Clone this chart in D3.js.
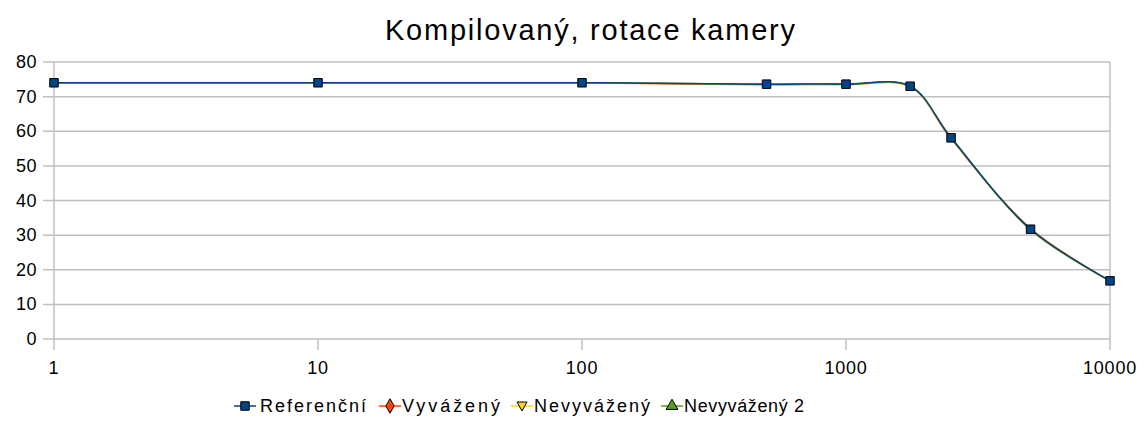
<!DOCTYPE html>
<html lang="cs">
<head>
  <meta charset="UTF-8" />
  <title>Kompilovaný, rotace kamery</title>
  <style>
    body { margin: 0; background: #fff; }
    svg { display: block; font-family: "Liberation Sans", Arial, sans-serif; }
    .grid line { stroke: #c0c0c0; stroke-width: 1.5px; }
    .tick-label { font-size: 18px; fill: #000; }
    .series path.line { fill: none; stroke-width: 1.5px; }
  </style>
</head>
<body>
  <svg width="1146" height="434"></svg>
  <script src="https://d3js.org/d3.v7.min.js"></script>
  <script>
    const width = 1146, height = 434;
    const margin = { top: 62, right: 36, bottom: 95, left: 54 };

    // data
    const xValues = [1, 10, 100, 500, 1000, 1750, 2500, 5000, 10000];
    const referencni = [74, 74, 74, 73.6, 73.6, 73.0, 58.1, 31.7, 16.8];
    const vyvazeny = [74, 74, 74, 73.4, 73.5, 72.9, 57.8, 31.9, 16.8];
    const nevyvazeny = [74, 74, 74, 73.6, 73.5, 72.8, 58.0, 31.5, 16.7];
    const nevyvazeny2 = [74, 74, 74, 73.6, 73.7, 73.0, 58.2, 31.6, 16.8];
    const xTicks = [1, 10, 100, 1000, 10000];
    const yTicks = [0, 10, 20, 30, 40, 50, 60, 70, 80];

    const series = [
      { name: "Referenční", values: referencni, color: "#004586", symbol: d3.symbolSquare },
      { name: "Vyvážený", values: vyvazeny, color: "#ff420e", symbol: d3.symbolDiamond },
      { name: "Nevyvážený", values: nevyvazeny, color: "#ffd320", symbol: "down" },
      { name: "Nevyvážený 2", values: nevyvazeny2, color: "#579d1c", symbol: d3.symbolTriangle }
    ];

    const svg = d3.select("svg");
    const x = d3.scaleLog().domain([1, 10000]).range([margin.left, width - margin.right]);
    const y = d3.scaleLinear().domain([0, 80]).range([height - margin.bottom, margin.top]);

    // title
    svg.append("text")
      .attr("x", 590).attr("y", 40)
      .attr("text-anchor", "middle")
      .attr("font-size", 29)
      .attr("textLength", 410)
      .attr("lengthAdjust", "spacing")
      .text("Kompilovaný, rotace kamery");

    // horizontal grid
    const grid = svg.append("g").attr("class", "grid");
    grid.selectAll("line.h").data(yTicks).enter().append("line")
      .attr("class", "h")
      .attr("x1", margin.left - 11).attr("x2", width - margin.right)
      .attr("y1", d => y(d)).attr("y2", d => y(d));

    // vertical axis lines + x ticks
    grid.selectAll("line.v").data(xTicks).enter().append("line")
      .attr("class", "v")
      .attr("x1", d => x(d)).attr("x2", d => x(d))
      .attr("y1", d => (d === 1 || d === 10000) ? y(80) : y(0))
      .attr("y2", y(0) + 11);

    // y labels
    svg.append("g").selectAll("text").data(yTicks).enter().append("text")
      .attr("class", "tick-label")
      .attr("x", 37).attr("y", d => y(d) + 6)
      .attr("text-anchor", "end")
      .attr("letter-spacing", 0.5)
      .text(d => d);

    // x labels
    svg.append("g").selectAll("text").data(xTicks).enter().append("text")
      .attr("class", "tick-label")
      .attr("x", d => x(d)).attr("y", y(0) + 35)
      .attr("text-anchor", "middle")
      .attr("letter-spacing", 0.8)
      .text(d => d);

    const line = d3.line()
      .x((d, i) => x(xValues[i]))
      .y(d => y(d))
      .curve(d3.curveCatmullRom.alpha(0.5));

    function symbolPath(s, small) {
      const k = small ? 0.5 : 1;
      if (s === "down") return `M${-5 * k},${-4 * k}L${5 * k},${-4 * k}L0,${5 * k}Z`;
      return d3.symbol().type(s).size((s === d3.symbolSquare ? 72 : 60) * k * k)();
    }

    // draw reference last so it sits on top
    const order = [series[1], series[2], series[3], series[0]];
    const g = svg.append("g").attr("class", "series");
    order.forEach(s => {
      g.append("path").attr("class", "line").attr("d", line(s.values)).attr("stroke", s.color);
    });
    order.forEach(s => {
      const small = s !== series[0];
      g.selectAll(null).data(s.values).enter().append("path")
        .attr("transform", (d, i) => `translate(${x(xValues[i])},${y(d)})`)
        .attr("d", symbolPath(s.symbol, small))
        .attr("fill", s.color)
        .attr("stroke", "#000")
        .attr("stroke-width", small ? 0 : 1);
    });

    // legend
    const legendItems = [
      { s: series[0], mx: 245, tx: 260, tw: 106 },
      { s: series[1], mx: 390, tx: 402, tw: 98 },
      { s: series[2], mx: 522, tx: 534, tw: 116 },
      { s: series[3], mx: 672, tx: 684, tw: 120 }
    ];
    const legend = svg.append("g");
    const ly = 406;
    legendItems.forEach(it => {
      legend.append("line")
        .attr("x1", it.mx - 11).attr("x2", it.mx + 11)
        .attr("y1", ly).attr("y2", ly)
        .attr("stroke", it.s.color).attr("stroke-width", 1.5);
      legend.append("path")
        .attr("transform", `translate(${it.mx},${ly})`)
        .attr("d", symbolPath(it.s.symbol, false))
        .attr("fill", it.s.color)
        .attr("stroke", "#000").attr("stroke-width", 1);
      legend.append("text")
        .attr("x", it.tx).attr("y", ly + 6)
        .attr("font-size", 18)
        .attr("textLength", it.tw)
        .attr("lengthAdjust", "spacing")
        .text(it.s.name);
    });
  </script>
</body>
</html>
